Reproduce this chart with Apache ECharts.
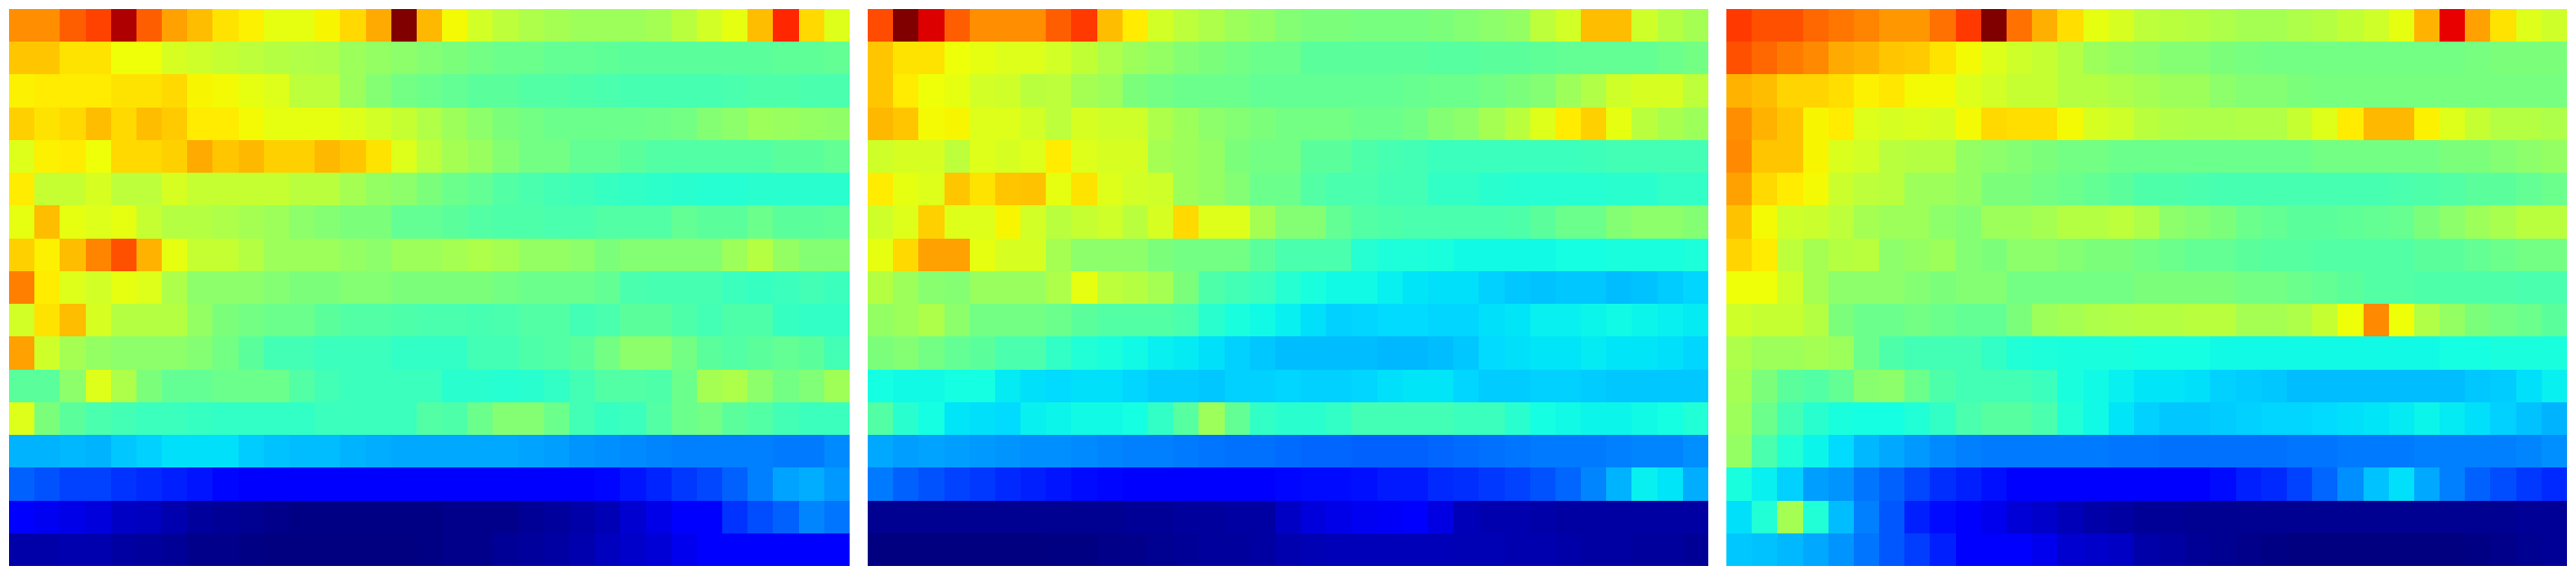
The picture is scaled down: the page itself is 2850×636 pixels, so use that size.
<!DOCTYPE html>
<html>
<head>
<meta charset="utf-8">
<style>html,body{margin:0;padding:0;background:#fff}#c{width:2850px;height:636px}</style>
<script src="https://cdn.jsdelivr.net/npm/echarts@6/dist/echarts.min.js"></script>
</head>
<body>
<div id="c"></div>
<script>
const columns = [];
for (let i = 0; i < 33; i++) columns.push(String(i));
const rowNames = [];
for (let i = 0; i < 17; i++) rowNames.push(String(i));

const panelA = [
[76,76,81,84,96,81,74,71,67,65.5,63,63,65,68,73,100,71.5,64.5,60.5,58,56,55,54,54,54,55,57.5,60.5,63,71,87,68,62],
[70,70,67,67,64,64,61,60,59,58,57,56.5,56,54,53,52,51,50,49,48,48,47,47,46.5,46,46,46,46,46,46,46.5,46.5,47],
[65.5,66,66,66,67,67,68,65,64.5,63,62,58,58,54,51,49,48,47,46,46,45,45,44.5,44,43.5,43.5,43.5,43.5,44,44.5,44.5,44,44],
[69,67,68,71,68,71,69.5,66,66,64.5,63,63,63,62,60.5,59,56.5,54,52,50,49,48,48,48,48,48.5,49,51,52,54,53.5,53,52.5],
[62,65.5,66,64,68,68,69,73,70,71.5,69,69,71.5,70,67,62,58,55,53.5,51,49,49,47,47,46,45,45,45,45,45,46,46,47],
[66,59,59,61,58,58,61,59,59,59,59,57.5,57.5,55,53,52,50,48,47,45,44,43,42.5,41.5,41,40.5,40,39.5,39.5,40,40,40,40],
[63,71,63,62,63,59,57,57,56,55,54,52,51,50,50,47,47,46,45,44.5,44.5,44,44,45,45,45,47,46,46,48,46,46,46.5],
[69,65.5,71,77,82.5,72,63,59,59,57,54,54,54,53,52,54,54,55,56,55,53,53,52,50,51,51,51,51,54,57,53,51,51],
[77.5,66,62,60.5,63,62,56,52,52,52,51,50,50,51,51,50,50,50,50,49,48,48,48,47,44,43.5,43.5,43.5,42,41.5,42,43,42],
[60.5,67,71,61,57,57,57,53,50,49,48,48,46,45,45,44.5,44,44,43.5,44,45,45,43,44,46,46,44.5,43,44.5,44.5,41.5,41,41],
[74,60,55,53,52,52,52,51,49,46,43,43,42,42,42,41,41,41,43,43,44.5,45,46,49,52,52,49,46,45,46,47,46,43],
[46,46,52,62,56,50,47,47,48,48,48,45,43,42,42,42,42,40,40,39.5,40,41,43,45,45,44.5,48,55,56,52,49,50.5,54.5],
[62,50,46,44,43,42,42,41.5,41,41,41,41,42,42,42,42,45,44.5,48,51,51,48,43,41.5,42,45,48,49,46,45,43,42,42],
[30,30,30.5,30,32,33,34.5,34.5,34.5,32.5,31.5,31,31,30,29.5,29,29,29,29,29,28.5,28,27,26.5,26,25.5,25,25,25,25,24.5,24.5,26],
[22,20.5,19,19,17.5,16.5,15.5,14.5,13,12.5,12,12,12,12,12,12,12,12,12,12,12,12,12,13,14.5,16,18,19.5,22,25,28.5,29.5,27.5],
[11,10,9,8,6,5.5,4,2.5,2,1.5,1,0.5,0.5,0.5,0.5,0.5,0.5,1,1,1,2,2.5,3.5,4.5,7,9,11,12.5,17.5,20,22,25.5,24],
[3.5,3.5,4,4,3,2.5,2,1,1,0.5,0,0,0,0,0,0,0.5,1,1,2,2.5,3,4,5.5,6.5,7.5,9.5,11,11.5,11.5,12,12,12.5]
];

const panelB = [
[83,100,92,81,76,76,76,81,85,71,66,60.5,58,56,54,53,51,50,50,49.5,49.5,49.5,50,51,52,53,58,60.5,71,71,60,57,55],
[70,67,67,64,63,62,62,60.5,58.5,56,54,53,51,50,49,48,48,46,46,46,46,46,45.5,45.5,46,46,46.5,47,47,47,47,48,49],
[70,66,64,63,60.5,60,57.5,58,55,54,50,49,48,48,48,47,47,47,47,47,47,47.5,48,48,49,50,51,54,56.5,60,61,61,58],
[71.5,70,64.5,65,62,62,60.5,58,61,60,60,56,54,52,51,50,49,49,49,48,48,49,51,52,55,57.5,62,66,69,63,57.5,55.5,54],
[60,61,61,58,62,61,62,66,62,61,61,55,54,53,50,49,49,46,46,44.5,43.5,43,42,42,42,42,42,42,42.5,43,43,43,43],
[66,63,62,70,67,70,70.5,63,67,62,60.5,60,54,53,51,48,48,45,44,44,43,43,41,41,40,39.5,39.5,39.5,39.5,40,40,41,41],
[60,62,69,62,62,65,60.5,57.5,59,60,57.5,61,68,62,62,55,51,51,47,45,44.5,44,44,44,44,44.5,46,48,48,51,52,52,51],
[63,68,74,74,63,61,61,55,52,52,52,50,49,49,49,46,44,44,44,39.5,38.5,38.5,38,37,37,37,37,37.5,37.5,38,38,38,38.5],
[57,54,51.5,51,53.5,53.5,53.5,56,63,58,57,55,50,44.5,43,42,39.5,38,37,37,36,35,34.5,34.5,33,32,31.5,32,32,31,31.5,32.5,33.5],
[53,54,56,52,49,49,49,48,46,45,45,45,44,40,38,37,36,34.5,33,33.5,34,34,33.5,33.5,34.5,35,36,36,36.5,37,36.5,36,35.5],
[50,51,49,47,46,44,44,41,39,38,37,36,35.5,34.5,33,32,31,31,31,31,30.5,30.5,31,32,34,34.5,35,35,35.5,35,35,34.5,33.5],
[37.5,37,37,37.5,37.5,35.5,34.5,34,34.5,34.5,33.5,32.5,32.5,32,33,33,33.5,33,33,33.5,34.5,35,35,33.5,32.5,32.5,33,33,32.5,32,32,32,32],
[45,40,37.5,35,34.5,34,36,36.5,37,37,37.5,41,45.5,54,47,41,40,40,41,43,43,43,43,42,42,40,37.5,37,36.5,36.5,37,37.5,39],
[29,28,28.5,28,27.5,27,26.5,26.5,26,25.5,25,25,24.5,24,23.5,23.5,23,22.5,22.5,22,22,22,22.5,23,23.5,24,24.5,24.5,24.5,25,25.5,25.5,26.5],
[24.5,22,20.5,19,18,16.5,15.5,14.5,13.5,13,12.5,12,12,12,12,12,13,13.5,13.5,14,15,15,16.5,17,18,19,20.5,22.5,25.5,30,36,35,29.5],
[1.5,1.5,1.5,1.5,1.5,1.5,1.5,1.5,1.5,1.5,2,2,2.5,2.5,3,3,6,8,9,10,10.5,11,8.5,5,4,4,3.5,3,3,3,3,3,3],
[0,0,0,0,0,0,0,0.2,0.2,0.8,1,1.5,2,2.5,2.5,3,4,4.5,5,5,5,5,5,4.5,4.5,4,4,3.5,3,3,2.5,2.5,2]
];

const panelC = [
[85,82.5,82.5,80,78.5,77,75,75,79,85,100,79,72.5,67.5,63,61,58,57.5,57,56,55,55,56,57,58.5,60,63,72,91,74,67,62,60],
[82.5,80,78,76.5,73,72,70,69.5,67,64.5,62,60,59,57,54,53,52,51,51,50,49.5,49,49,49,49,49,49,49,49,49.5,50,50,50],
[72,71,68.5,68.5,67.5,65.5,66.5,64.5,64.5,62,60.5,59,59,57,57,56,55,54,54,52,51,51,50,49.5,49.5,49.5,49.5,49.5,49.5,49.5,49.5,49.5,49.5],
[76,72,70,65,66,62,61,61.5,61,64.5,68,67.5,67.5,64.5,61,60,57.5,56.5,56,56,56.5,56.5,59,62,66,71.5,71.5,65.5,62,59,57,57,56],
[76.5,70,70,65,61.5,60.5,57.5,57,57,53,52,51,50,49,49,48,48,48,48,48,48,48,48,49,49,49,49,49,50,50,51,52,53],
[74,68,66,64.5,59.5,58,57.5,54,54,53,50,50,49,48,47,46,44.5,44.5,44,43.5,43.5,43.5,43.5,43.5,43.5,43.5,44,44.5,45,46,46,47,48],
[70.5,64.5,60,59.5,58,55,54,54,52,51,54,54,55,57,57,58,56,52,51,50,48,47,46,46,46.5,47,47.5,50,52,54,55.5,57.5,57.5],
[68.5,66,58,55,57,57.5,52,53,54,51,50,52,52,51,50,50,49,48,47,47,46,45.5,45.5,45,45,45,45,46,46,47,48,49,49],
[64,64,60,55,52,52,52,51,50,51,51,49,49,49,49,49,50,50,50,50,49,49,48,47,46,45,45,44.5,44.5,44.5,44.5,44,44],
[60,59,59,57,50,48,48,49,48,47,47,50,54,55,56,56.5,57,57,57.5,57.5,55,55,56,59,64,76.5,64,56.5,53,50,49,48,46],
[56,54,54,55,54,48,44.5,43,43,43,41,39,38.5,38,38,38,37.5,37.5,37.5,37,37,37,37,37,37,37,37,37,37.5,37.5,38,38,38],
[55,50,46,45,47,51.5,52,48,44.5,43,43,43,42,38,37,36,35,35,34.5,33,32.5,32,31,31,31,31,31,31,31,32,32.5,34.5,36],
[54,48,43,40,38,37.5,37.5,39,41,44,45.5,45.5,44,39,37,35,33,32,32,32.5,33,33.5,33.5,34,34.5,35,35.5,36.5,35.5,34.5,33,31.5,30],
[53,44,39,36.5,34,30.5,29,27.5,26,25,24.5,24.5,24.5,24.5,24.5,24,24,23.5,23.5,23.5,23.5,23.5,24,24,24.5,24.5,24.5,25,25,25,25,25.5,26.5],
[38,36,33,28,27,24,22,19.5,17,15.5,14,12.5,12,12,12,12,12,12,12,13.5,15.5,16.5,19,22.5,26.5,31.5,34.5,29,25,22,20,18,16.5],
[34.5,39,55,39,31,25,21,15.5,13.5,11,9.5,7.5,6.5,5,3.5,3,2,2,1.5,1.5,1.5,1.5,1.5,1.5,1.5,1.5,1.5,1.5,1.5,1.5,1.5,2,2],
[32,31.5,30.5,29,27,24,21,18.5,15.5,11.5,12,11,9.5,7,6.5,6,3.5,3,2,1.5,1,0.5,0,0,0,0,0,0,0,0.5,1,1.5,2]
];

const panels = [panelA, panelB, panelC];
const gridLefts = [10, 960, 1910];

function clamp(x) { return Math.max(0, Math.min(1, x)); }
function jet(t) {
  let r = t < 0.35 ? 0 : t < 0.66 ? (t - 0.35) / 0.31 : t < 0.89 ? 1 : 1 - 0.5 * (t - 0.89) / 0.11;
  let g = t < 0.125 ? 0 : t < 0.375 ? (t - 0.125) / 0.25 : t < 0.64 ? 1 : t < 0.91 ? 1 - (t - 0.64) / 0.27 : 0;
  let b = t < 0.11 ? 0.5 + 0.5 * t / 0.11 : t < 0.34 ? 1 : t < 0.65 ? 1 - (t - 0.34) / 0.31 : 0;
  return 'rgb(' + [r, g, b].map(v => Math.round(clamp(v) * 255)).join(',') + ')';
}
const jetStops = [];
for (let i = 0; i <= 200; i++) jetStops.push(jet(i / 200));

function renderCell(params, api) {
  const c = api.coord([api.value(0), api.value(1)]);
  const s = api.size([1, 1]);
  const x0 = Math.round(c[0] - s[0] / 2), x1 = Math.round(c[0] + s[0] / 2);
  const y0 = Math.round(c[1] - s[1] / 2), y1 = Math.round(c[1] + s[1] / 2);
  return {
    type: 'rect',
    shape: { x: x0, y: y0, width: x1 - x0, height: y1 - y0 },
    style: { fill: api.visual('color') }
  };
}

const chart = echarts.init(document.getElementById('c'), null, { renderer: 'canvas' });
chart.setOption({
  animation: false,
  backgroundColor: '#ffffff',
  grid: panels.map((p, i) => ({ left: gridLefts[i], top: 10, width: 930, height: 616 })),
  xAxis: panels.map((p, i) => ({ type: 'category', gridIndex: i, data: columns, show: false })),
  yAxis: panels.map((p, i) => ({ type: 'category', gridIndex: i, data: rowNames, inverse: true, show: false })),
  visualMap: { show: false, type: 'continuous', min: 0, max: 100, dimension: 2, seriesIndex: [0, 1, 2], inRange: { color: jetStops } },
  series: panels.map((p, i) => ({
    type: 'custom',
    xAxisIndex: i,
    yAxisIndex: i,
    renderItem: renderCell,
    encode: { x: 0, y: 1 },
    progressive: 0,
    silent: true,
    data: p.flatMap((row, y) => row.map((v, x) => [x, y, v]))
  }))
});
</script>
</body>
</html>
